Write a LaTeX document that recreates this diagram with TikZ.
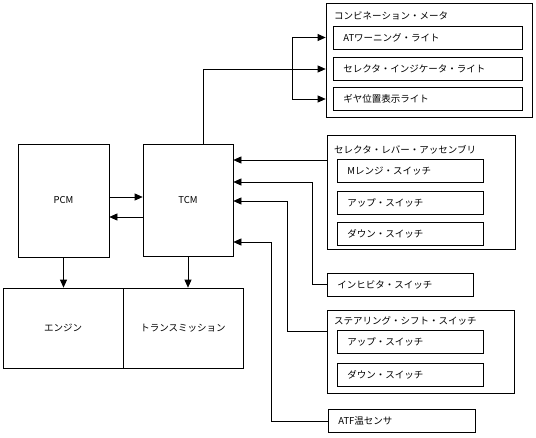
\documentclass[tikz,border=0pt]{standalone}
\usepackage{fontspec}
\setmainfont{Noto Sans CJK JP}
\usetikzlibrary{arrows.meta}

\begin{document}
\begin{tikzpicture}[
	x=1pt, y=-1pt,
	font=\fontsize{9.5}{11}\selectfont,
	box/.style={
		draw,
		line width=0.7pt,
		inner sep=0pt
	},
	% inner boxes with left aligned text
	item/.style={
		box,
		inner xsep=10pt,
		align=left,
		minimum height=23pt
	},
	title/.style={
		anchor=west,
		inner sep=0pt
	},
	arr/.style={
		draw,
		line width=0.7pt,
		-{Triangle[length=8pt,width=7pt]}
	}
	]
	
	\useasboundingbox (0,0) rectangle (536,437);
	
	% ================= UNITS =================
	\node[box, minimum width=91pt, minimum height=113pt] (pcm) at (63.5,200.5) {PCM};
	\node[box, minimum width=90pt, minimum height=112pt] (tcm) at (188,200.5) {TCM};
	\node[box, minimum width=120pt, minimum height=80pt] (engine) at (63,328) {エンジン};
	\node[box, minimum width=120pt, minimum height=80pt] (trans) at (183,328) {トランスミッション};
	
	% ================= COMBINATION METER =================
	\node[box, minimum width=206pt, minimum height=114pt] (meter) at (429,60) {};
	\node[title] (metertitle) at (334,16) {コンビネーション・メータ};
	\node[item, text width=169pt, anchor=west] (atwarn) at (333,37.5) {ATワーニング・ライト};
	\node[item, text width=169pt, anchor=west] (indlight) at (333,68.5) {セレクタ・インジケータ・ライト};
	\node[item, text width=169pt, anchor=west] (gearlight) at (333,99) {ギヤ位置表示ライト};
	
	% ================= SELECTOR LEVER =================
	\node[box, minimum width=188pt, minimum height=114pt] (lever) at (421,192) {};
	\node[title] (levertitle) at (334,150) {セレクタ・レバー・アッセンブリ};
	\node[item, text width=126pt, anchor=west] (mrange) at (337,171) {Mレンジ・スイッチ};
	\node[item, text width=126pt, anchor=west] (leverup) at (337,202.5) {アップ・スイッチ};
	\node[item, text width=126pt, anchor=west] (leverdown) at (337,234) {ダウン・スイッチ};
	
	% ================= OTHER INPUTS =================
	\node[item, text width=126pt, anchor=west] (inhibit) at (327,284.5) {インヒビタ・スイッチ};
	
	\node[box, minimum width=187pt, minimum height=83pt] (steer) at (420.5,351.5) {};
	\node[title] (steertitle) at (334,321) {ステアリング・シフト・スイッチ};
	\node[item, text width=126pt, anchor=west] (steerup) at (337,342) {アップ・スイッチ};
	\node[item, text width=126pt, anchor=west] (steerdown) at (337,374.5) {ダウン・スイッチ};
	
	\node[item, text width=127pt, anchor=west] (atf) at (328,421) {ATF温センサ};
	
	% ================= CONNECTORS =================
	\coordinate (meterin) at (203,69);
	\coordinate (split) at (292,69);
	\draw[arr] (tcm.north -| meterin) |- (meter.west |- meterin);
	\draw[arr] (split) |- (meter.west |- atwarn);
	\draw[arr] (split) |- (meter.west |- gearlight);
	
	\draw[arr] (pcm.east |- 0,197) -- (tcm.west |- 0,197);
	\draw[arr] (tcm.west |- 0,217) -- (pcm.east |- 0,217);
	\draw[arr] (pcm.south) -- (pcm.south |- engine.north);
	\draw[arr] (tcm.south) -- (tcm.south |- trans.north);
	
	\draw[arr] (lever.west |- 0,160) -- (tcm.east |- 0,160);
	\draw[arr] (inhibit.west) -| (312,182) -- (tcm.east |- 0,182);
	\draw[arr] (steer.west |- 0,331) -| (287,201) -- (tcm.east |- 0,201);
	\draw[arr] (atf.west) -| (271,242) -- (tcm.east |- 0,242);
	
\end{tikzpicture}
\end{document}
